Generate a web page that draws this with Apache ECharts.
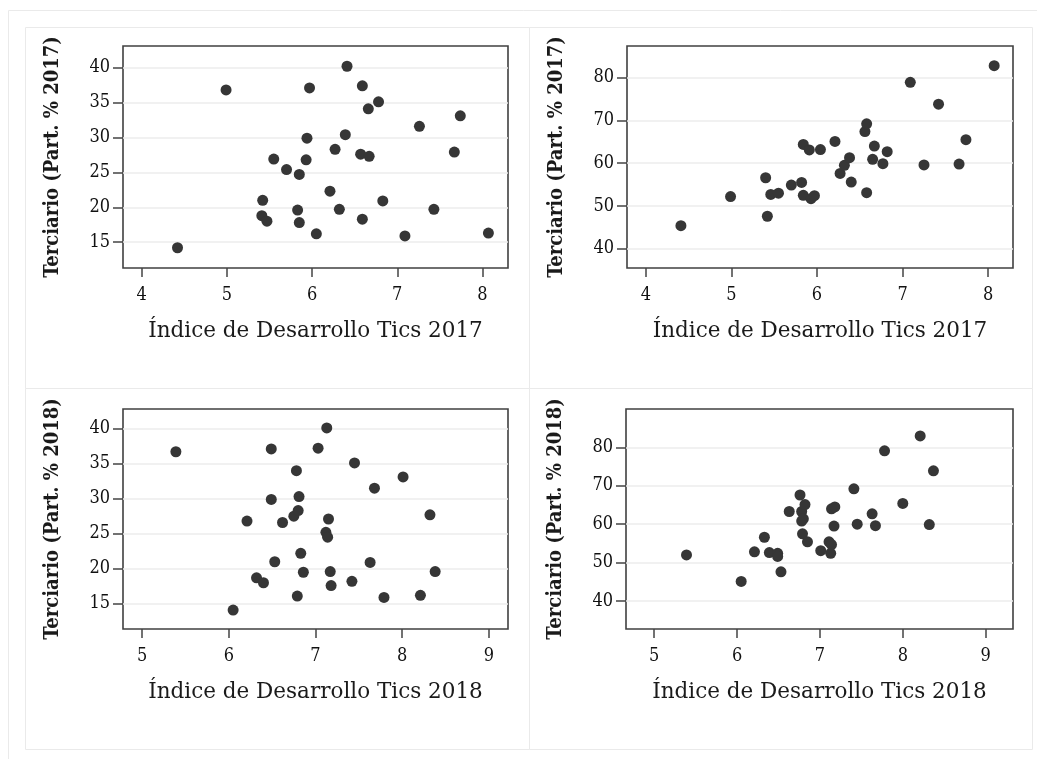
<!DOCTYPE html>
<html>
<head>
<meta charset="utf-8">
<script src="https://cdn.jsdelivr.net/npm/echarts@6/dist/echarts.min.js"></script>
<style>
html,body{margin:0;padding:0;background:#fff;}
#chart{width:1037px;height:759px;}
</style>
</head>
<body>
<div id="chart"></div>
<script>
// ---- Data ----
const xTitle2017 = 'Índice de Desarrollo Tics 2017';
const xTitle2018 = 'Índice de Desarrollo Tics 2018';
const yTitle2017 = 'Terciario (Part. % 2017)';
const yTitle2018 = 'Terciario (Part. % 2018)';

const xTicks2017 = [4, 5, 6, 7, 8];
const xTicks2018 = [5, 6, 7, 8, 9];
const yTicksLow = [15, 20, 25, 30, 35, 40];
const yTicksHigh = [40, 50, 60, 70, 80];

// Panel 1 (top-left)
const p1x = [4.42, 4.99, 5.97, 6.41, 6.59, 6.78, 6.66, 7.74, 7.26, 5.94, 6.39, 6.27, 6.57, 6.67, 7.67, 5.55,
             5.93, 5.70, 5.85, 6.21, 5.42, 6.83, 5.83, 6.32, 7.43, 5.41, 5.47, 5.85, 6.59, 6.05, 7.09, 8.07];
const p1y = [14.2, 36.8, 37.1, 40.2, 37.4, 35.1, 34.1, 33.1, 31.6, 29.9, 30.4, 28.3, 27.6, 27.3, 27.9, 26.9,
             26.8, 25.4, 24.7, 22.3, 21.0, 20.9, 19.6, 19.7, 19.7, 18.8, 18.0, 17.8, 18.3, 16.2, 15.9, 16.3];

// Panel 2 (top-right)
const p2x = [4.41, 4.99, 5.40, 5.42, 5.46, 5.55, 5.70, 5.82, 5.84, 5.91, 6.04, 5.84, 5.93, 5.97, 6.21, 6.27,
             6.32, 6.38, 6.40, 6.58, 6.56, 6.58, 6.67, 6.65, 6.77, 6.82, 7.09, 7.25, 7.42, 7.66, 7.74, 8.07];
const p2y = [45.4, 52.2, 56.6, 47.6, 52.7, 53.0, 54.9, 55.5, 64.4, 63.1, 63.2, 52.5, 51.7, 52.4, 65.1, 57.6,
             59.5, 61.3, 55.6, 53.1, 67.4, 69.2, 64.0, 60.9, 59.9, 62.7, 78.9, 59.6, 73.8, 59.8, 65.5, 82.8];

// Panel 3 (bottom-left)
const p3x = [5.39, 6.05, 6.21, 6.32, 6.40, 6.49, 6.49, 6.53, 6.62, 6.75, 6.80, 6.78, 6.81, 6.79, 6.83, 6.86,
             7.03, 7.13, 7.15, 7.12, 7.14, 7.17, 7.18, 7.42, 7.45, 7.63, 7.68, 7.79, 8.01, 8.21, 8.32, 8.38];
const p3y = [36.7, 14.1, 26.8, 18.7, 18.0, 37.1, 29.9, 21.0, 26.6, 27.5, 28.3, 34.0, 30.3, 16.1, 22.2, 19.5,
             37.2, 40.1, 27.1, 25.2, 24.5, 19.6, 17.6, 18.2, 35.1, 20.9, 31.5, 15.9, 33.1, 16.2, 27.7, 19.6];

// Panel 4 (bottom-right)
const p4x = [5.39, 6.05, 6.21, 6.33, 6.39, 6.49, 6.49, 6.53, 6.63, 6.76, 6.78, 6.82, 6.78, 6.80, 6.79, 6.85,
             7.01, 7.11, 7.13, 7.14, 7.18, 7.17, 7.41, 7.45, 7.63, 7.67, 7.78, 8.00, 8.21, 8.32, 8.37, 7.14];
const p4y = [52.0, 45.1, 52.8, 56.6, 52.6, 52.4, 51.6, 47.6, 63.3, 67.6, 63.3, 65.1, 60.8, 61.4, 57.5, 55.4,
             53.1, 55.4, 52.4, 64.0, 64.5, 59.5, 69.2, 60.0, 62.7, 59.6, 79.1, 65.4, 83.0, 59.9, 73.9, 54.7];

// ---- Build chart ----
const zip = (xs, ys) => xs.map((v, i) => [v, ys[i]]);

const serifTick = '"DejaVu Serif Condensed", "Liberation Serif", serif';
const serifTitle = '"DejaVu Serif", serif';

const panels = [
  {grid: {left: 123, top: 46, width: 385, height: 222}, xr: [3.78, 8.30], yr: [11.3, 43.1],
   xt: xTicks2017, yt: yTicksLow, xn: xTitle2017, yn: yTitle2017, data: zip(p1x, p1y)},
  {grid: {left: 627, top: 46, width: 386, height: 222}, xr: [3.78, 8.29], yr: [35.5, 87.4],
   xt: xTicks2017, yt: yTicksHigh, xn: xTitle2017, yn: yTitle2017, data: zip(p2x, p2y)},
  {grid: {left: 123, top: 409, width: 385, height: 220}, xr: [4.78, 9.22], yr: [11.4, 42.8],
   xt: xTicks2018, yt: yTicksLow, xn: xTitle2018, yn: yTitle2018, data: zip(p3x, p3y)},
  {grid: {left: 626, top: 409, width: 387, height: 220}, xr: [4.66, 9.33], yr: [32.7, 90.0],
   xt: xTicks2018, yt: yTicksHigh, xn: xTitle2018, yn: yTitle2018, data: zip(p4x, p4y)}
];

const grids = [], xAxes = [], yAxes = [], series = [];
panels.forEach((p, i) => {
  grids.push(Object.assign({show: true, borderColor: '#404040', borderWidth: 1.6, backgroundColor: '#fff'}, p.grid));
  xAxes.push({
    type: 'value', gridIndex: i, min: p.xr[0], max: p.xr[1],
    name: p.xn, nameLocation: 'middle', nameGap: 52,
    nameTextStyle: {fontFamily: serifTitle, fontSize: 21.5, color: '#1a1a1a'},
    axisLine: {show: false},
    axisTick: {show: true, length: 9, customValues: p.xt, lineStyle: {color: '#444', width: 1.5}},
    axisLabel: {customValues: p.xt, margin: 18, fontFamily: serifTick, fontSize: 18, color: '#111'},
    splitLine: {show: false}
  });
  yAxes.push({
    type: 'value', gridIndex: i, min: p.yr[0], max: p.yr[1],
    name: p.yn, nameLocation: 'middle', nameGap: 60,
    nameTextStyle: {fontFamily: serifTick, fontSize: 20, fontWeight: 'bold', color: '#1a1a1a'},
    axisLine: {show: false},
    axisTick: {show: true, length: 10, customValues: p.yt, lineStyle: {color: '#444', width: 1.5}},
    axisLabel: {customValues: p.yt, margin: 13, fontFamily: serifTick, fontSize: 18, color: '#111'},
    splitLine: {show: true, lineStyle: {color: '#ececec', width: 1.5}}
  });
  series.push({
    type: 'scatter', xAxisIndex: i, yAxisIndex: i, data: p.data,
    symbol: 'circle', symbolSize: 11,
    itemStyle: {color: '#363636', opacity: 1},
    silent: true
  });
});

const borderStyle = {fill: 'none', stroke: '#eaeaea', lineWidth: 1};
const graphic = [
  {type: 'rect', shape: {x: 8.5, y: 10.5, width: 1040, height: 760}, style: borderStyle, z: -10},
  {type: 'rect', shape: {x: 25.5, y: 27.5, width: 504, height: 361}, style: borderStyle, z: -10},
  {type: 'rect', shape: {x: 529.5, y: 27.5, width: 503, height: 361}, style: borderStyle, z: -10},
  {type: 'rect', shape: {x: 25.5, y: 388.5, width: 504, height: 361}, style: borderStyle, z: -10},
  {type: 'rect', shape: {x: 529.5, y: 388.5, width: 503, height: 361}, style: borderStyle, z: -10}
];

const chart = echarts.init(document.getElementById('chart'), null, {renderer: 'canvas'});
chart.setOption({
  animation: false,
  backgroundColor: '#fff',
  grid: grids, xAxis: xAxes, yAxis: yAxes, series: series, graphic: graphic
});
</script>
</body>
</html>
